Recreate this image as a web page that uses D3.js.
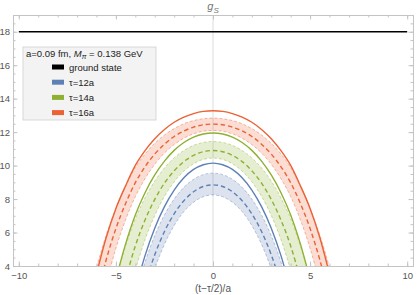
<!DOCTYPE html>
<html>
<head>
<meta charset="utf-8">
<script src="https://cdn.jsdelivr.net/npm/d3@7"></script>
<style>
  body { margin: 0; background: #fff; }
  svg { display: block; font-family: "Liberation Sans", Arial, sans-serif; }
</style>
</head>
<body>
<script>
// (t - tau/2)/a sample positions
const tGrid = [-6.5, -6, -5.5, -5, -4.5, -4, -3.5, -3, -2.5, -2, -1.5, -1, -0.5, 0,
               0.5, 1, 1.5, 2, 2.5, 3, 3.5, 4, 4.5, 5, 5.5, 6, 6.5];

const groundState = 18.0;

// tau = 16a
const fit16 = [null, 3.53, 5.70, 7.44, 8.80, 10.01, 10.89, 11.60, 12.16, 12.59, 12.90, 13.11, 13.24, 13.28,
               13.24, 13.11, 12.90, 12.59, 12.16, 11.60, 10.89, 10.01, 8.80, 7.44, 5.70, 3.53, null];
const hi16  = [1.60, 3.90, 5.85, 7.45, 8.75, 9.89, 10.69, 11.33, 11.83, 12.21, 12.50, 12.69, 12.80, 12.84,
               12.80, 12.69, 12.50, 12.21, 11.83, 11.33, 10.69, 9.89, 8.75, 7.45, 5.85, 3.90, 1.60];
const mid16 = [null, 2.05, 4.37, 6.24, 7.74, 8.98, 9.93, 10.69, 11.28, 11.74, 12.07, 12.30, 12.44, 12.48,
               12.44, 12.30, 12.07, 11.74, 11.28, 10.69, 9.93, 8.98, 7.74, 6.24, 4.37, 2.05, null];
const lo16  = [null, null, 2.95, 5.06, 6.76, 8.15, 9.22, 10.08, 10.75, 11.26, 11.64, 11.90, 12.05, 12.10,
               12.05, 11.90, 11.64, 11.26, 10.75, 10.08, 9.22, 8.15, 6.76, 5.06, 2.95, null, null];

// tau = 14a
const fit14 = [null, null, null, 3.21, 5.32, 7.05, 8.38, 9.44, 10.27, 10.91, 11.38, 11.70, 11.89, 11.95,
               11.89, 11.70, 11.38, 10.91, 10.27, 9.44, 8.38, 7.05, 5.32, 3.21, null, null, null];
const hi14  = [null, null, null, 3.20, 5.19, 6.82, 8.07, 9.07, 9.86, 10.46, 10.90, 11.21, 11.38, 11.44,
               11.38, 11.21, 10.90, 10.46, 9.86, 9.07, 8.07, 6.82, 5.19, 3.20, null, null, null];
const mid14 = [null, null, null, null, 3.20, 5.20, 6.75, 7.98, 8.95, 9.69, 10.24, 10.61, 10.83, 10.90,
               10.83, 10.61, 10.24, 9.69, 8.95, 7.98, 6.75, 5.20, 3.20, null, null, null, null];
const lo14  = [null, null, null, null, null, 3.76, 5.58, 7.02, 8.16, 9.03, 9.67, 10.11, 10.37, 10.45,
               10.37, 10.11, 9.67, 9.03, 8.16, 7.02, 5.58, 3.76, null, null, null, null, null];

// tau = 12a
const fit12 = [null, null, null, null, null, 2.56, 4.62, 6.26, 7.55, 8.54, 9.27, 9.77, 10.05, 10.15,
               10.05, 9.77, 9.27, 8.54, 7.55, 6.26, 4.62, 2.56, null, null, null, null, null];
const hi12  = [null, null, null, null, null, 2.25, 4.23, 5.81, 7.05, 8.00, 8.70, 9.18, 9.46, 9.55,
               9.46, 9.18, 8.70, 8.00, 7.05, 5.81, 4.23, 2.25, null, null, null, null, null];
const mid12 = [null, null, null, null, null, null, 2.91, 4.67, 6.06, 7.12, 7.90, 8.44, 8.75, 8.85,
               8.75, 8.44, 7.90, 7.12, 6.06, 4.67, 2.91, null, null, null, null, null, null];
const lo12  = [null, null, null, null, null, null, 1.96, 3.83, 5.30, 6.42, 7.25, 7.81, 8.14, 8.25,
               8.14, 7.81, 7.25, 6.42, 5.30, 3.83, 1.96, null, null, null, null, null, null];

const xTicks = [-10, -5, 0, 5, 10];
const yTicks = [4, 6, 8, 10, 12, 14, 16, 18];
const legendLabels = ["ground state", "\u03c4=12a", "\u03c4=14a", "\u03c4=16a"];

const W = 419, H = 295;
const blue = "#5e81b5", green = "#8fb032", orange = "#eb6235";
const frameColor = "#c4c4c4", labelColor = "#555";

const x = d3.scaleLinear().domain([-10.3, 10.3]).range([13, 413]);
const y = d3.scaleLinear().domain([4, 19]).range([266, 15]);

const svg = d3.select("body").append("svg").attr("width", W).attr("height", H);

svg.append("clipPath").attr("id", "plotclip")
  .append("rect")
  .attr("x", x.range()[0]).attr("y", y.range()[1])
  .attr("width", x.range()[1] - x.range()[0])
  .attr("height", y.range()[0] - y.range()[1]);

// vertical axis line at t=0
svg.append("line")
  .attr("x1", x(0)).attr("x2", x(0))
  .attr("y1", y.range()[0]).attr("y2", y.range()[1])
  .attr("stroke", "#dcdcdc").attr("stroke-width", 1);

const plot = svg.append("g").attr("clip-path", "url(#plotclip)");

function series(vals) {
  return tGrid.map((t, i) => ({ t: t, v: vals[i] }));
}

const line = d3.line()
  .defined(d => d.v != null)
  .x(d => x(d.t)).y(d => y(d.v))
  .curve(d3.curveMonotoneX);

function drawBand(hiVals, midVals, loVals, fitVals, color) {
  const pts = tGrid.map((t, i) => ({ t: t, hi: hiVals[i], lo: loVals[i] }));
  const area = d3.area()
    .defined(d => d.hi != null)
    .x(d => x(d.t))
    .y0(d => d.lo != null ? y(d.lo) : y.range()[0] + 40)
    .y1(d => y(d.hi))
    .curve(d3.curveMonotoneX);
  plot.append("path").datum(pts).attr("d", area)
    .attr("fill", color).attr("fill-opacity", 0.22).attr("stroke", "none");
  [hiVals, loVals].forEach(v => {
    plot.append("path").datum(series(v)).attr("d", line)
      .attr("fill", "none").attr("stroke", color).attr("stroke-opacity", 0.55)
      .attr("stroke-width", 0.8).attr("stroke-dasharray", "3,2");
  });
  plot.append("path").datum(series(midVals)).attr("d", line)
    .attr("fill", "none").attr("stroke", color)
    .attr("stroke-width", 1.4).attr("stroke-dasharray", "4.5,3");
  plot.append("path").datum(series(fitVals)).attr("d", line)
    .attr("fill", "none").attr("stroke", color).attr("stroke-width", 1.4);
}

drawBand(hi12, mid12, lo12, fit12, blue);
drawBand(hi14, mid14, lo14, fit14, green);
drawBand(hi16, mid16, lo16, fit16, orange);

// ground state
plot.append("line")
  .attr("x1", x(-10)).attr("x2", x(10))
  .attr("y1", y(groundState)).attr("y2", y(groundState))
  .attr("stroke", "#000").attr("stroke-width", 1.6);

// frame with ticks on all sides
function styleAxis(g) {
  g.selectAll(".domain").attr("stroke", frameColor);
  g.selectAll(".tick line").attr("stroke", frameColor);
  g.selectAll("text").attr("fill", labelColor).style("font-size", "9.5px");
}
const xMinor = d3.range(-10, 10.01, 1);
const yMinor = d3.range(4, 19.01, 0.5);

const xb = y.range()[0], xt = y.range()[1], yl = x.range()[0], yr = x.range()[1];

svg.append("g").attr("transform", `translate(0,${xb})`)
  .call(d3.axisBottom(x).tickValues(xMinor).tickSize(-2.5).tickFormat("").tickSizeOuter(0))
  .call(styleAxis);
svg.append("g").attr("transform", `translate(0,${xb})`)
  .call(d3.axisBottom(x).tickValues(xTicks).tickSize(-4.5).tickPadding(6)
    .tickFormat(d => d < 0 ? "\u2212" + Math.abs(d) : d).tickSizeOuter(0))
  .call(styleAxis);
svg.append("g").attr("transform", `translate(0,${xt})`)
  .call(d3.axisTop(x).tickValues(xMinor).tickSize(-2.5).tickFormat("").tickSizeOuter(0))
  .call(styleAxis);
svg.append("g").attr("transform", `translate(0,${xt})`)
  .call(d3.axisTop(x).tickValues(xTicks).tickSize(-4.5).tickFormat("").tickSizeOuter(0))
  .call(styleAxis);
svg.append("g").attr("transform", `translate(${yl},0)`)
  .call(d3.axisLeft(y).tickValues(yMinor).tickSize(-2.5).tickFormat("").tickSizeOuter(0))
  .call(styleAxis);
svg.append("g").attr("transform", `translate(${yl},0)`)
  .call(d3.axisLeft(y).tickValues(yTicks).tickSize(-4.5).tickPadding(3).tickSizeOuter(0))
  .call(styleAxis);
svg.append("g").attr("transform", `translate(${yr},0)`)
  .call(d3.axisRight(y).tickValues(yMinor).tickSize(-2.5).tickFormat("").tickSizeOuter(0))
  .call(styleAxis);
svg.append("g").attr("transform", `translate(${yr},0)`)
  .call(d3.axisRight(y).tickValues(yTicks).tickSize(-4.5).tickFormat("").tickSizeOuter(0))
  .call(styleAxis);

// title
const title = svg.append("text").attr("x", x(0)).attr("y", 10)
  .attr("text-anchor", "middle").attr("fill", "#777")
  .style("font-size", "11px").style("font-style", "italic");
title.append("tspan").text("g");
title.append("tspan").attr("dy", 2.5).style("font-size", "8px").text("S");

// x axis label
svg.append("text").attr("x", x(0)).attr("y", 292)
  .attr("text-anchor", "middle").attr("fill", labelColor)
  .style("font-size", "10px").text("(t\u2212\u03c4/2)/a");

// legend
const legend = svg.append("g").attr("transform", "translate(23,47)");
legend.append("rect").attr("width", 133).attr("height", 73)
  .attr("fill", "#f3f3f3").attr("stroke", "#cfcfcf").attr("stroke-width", 0.8);
const head = legend.append("text").attr("x", 3).attr("y", 9.5)
  .attr("fill", "#222").style("font-size", "9.5px");
head.append("tspan").text("a=0.09 fm, ");
head.append("tspan").style("font-style", "italic").text("M");
head.append("tspan").attr("dy", 2).style("font-size", "7px").style("font-style", "italic").text("\u03c0");
head.append("tspan").attr("dy", -2).text(" = 0.138 GeV");

const legendColors = ["#000", blue, green, orange];
legendLabels.forEach((lab, i) => {
  const yy = 20 + i * 15.2;
  legend.append("rect").attr("x", 29).attr("y", yy - 2.5)
    .attr("width", 12).attr("height", 5).attr("fill", legendColors[i]);
  legend.append("text").attr("x", 46).attr("y", yy + 3.5)
    .attr("fill", "#222").style("font-size", "9.5px").text(lab);
});
</script>
</body>
</html>
